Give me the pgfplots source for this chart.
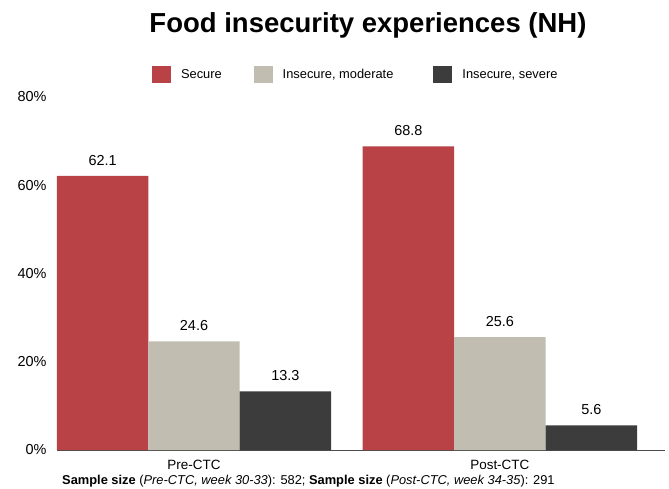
\documentclass[border=0pt]{standalone}
\usepackage{fontspec}
\setmainfont{Liberation Sans}
\usepackage{xcolor}
\usepackage{pgfplots}
\pgfplotsset{compat=1.18}
\definecolor{cSecure}{RGB}{185,66,71}
\definecolor{cModerate}{RGB}{193,189,176}
\definecolor{cSevere}{RGB}{60,60,60}

\begin{document}
\begin{tikzpicture}
\begin{axis}[
    at={(0,0)}, anchor=south west,
    scale only axis,
    width=608bp, height=353bp,
    xmin=-0.448, xmax=1.54,
    ymin=0, ymax=80,
    xtick={0,1},
    xticklabels={Pre-CTC, Post-CTC},
    ytick={0,20,40,60,80},
    yticklabel={\pgfmathprintnumber{\tick}\%},
    /pgf/number format/assume math mode=true,
    tick style={draw=none},
    axis lines*=left,
    y axis line style={draw=none},
    x axis line style={draw=black!70, line width=0.8pt, -},
    ticklabel style={font=\fontsize{13.5}{15}\selectfont},
    yticklabel style={font=\fontsize{14.5}{16}\selectfont, xshift=-7bp},
    xticklabel style={yshift=-2bp},
    ybar=0pt,
    bar width=0.299,
    nodes near coords,
    nodes near coords style={font=\fontsize{14.5}{16}\selectfont, color=black, yshift=7bp},
    point meta=explicit symbolic,
    legend columns=3,
    legend style={draw=none, inner sep=0pt, at={(rel axis cs:0.156,1)}, anchor=west, yshift=22bp,
        font=\fontsize{12.9}{15}\selectfont,
        /tikz/every odd column/.append style={column sep=8bp},
        /tikz/column 2/.style={column sep=30bp},
        /tikz/column 4/.style={column sep=38bp}},
    legend image code/.code={\fill[#1, draw=none] (0bp,-8.5bp) rectangle (19bp,8.5bp);},
    clip=false,
]
\addplot[fill=cSecure, draw=none, bar shift=-0.299] coordinates {(0,62.1) [62.1] (1,68.8) [68.8]};
\addlegendentry{Secure}
\addplot[fill=cModerate, draw=none, bar shift=0] coordinates {(0,24.6) [24.6] (1,25.6) [25.6]};
\addlegendentry{Insecure, moderate}
\addplot[fill=cSevere, draw=none, bar shift=0.299] coordinates {(0,13.3) [13.3] (1,5.6) [5.6]};
\addlegendentry{Insecure, severe}
\end{axis}
\node[font=\bfseries\fontsize{27.6}{32}\selectfont] at (311bp,425bp) {Food insecurity experiences (NH)};
\node[anchor=west, font=\fontsize{12.9}{15}\selectfont, inner sep=0pt] at (5bp,-31bp)
  {\textbf{Sample size} (\textit{Pre-CTC, week 30-33}): 582; \textbf{Sample size} (\textit{Post-CTC, week 34-35}): 291};
\pgfresetboundingbox
\path (-57bp,-39bp) rectangle (612bp,450bp);
\end{tikzpicture}
\end{document}
